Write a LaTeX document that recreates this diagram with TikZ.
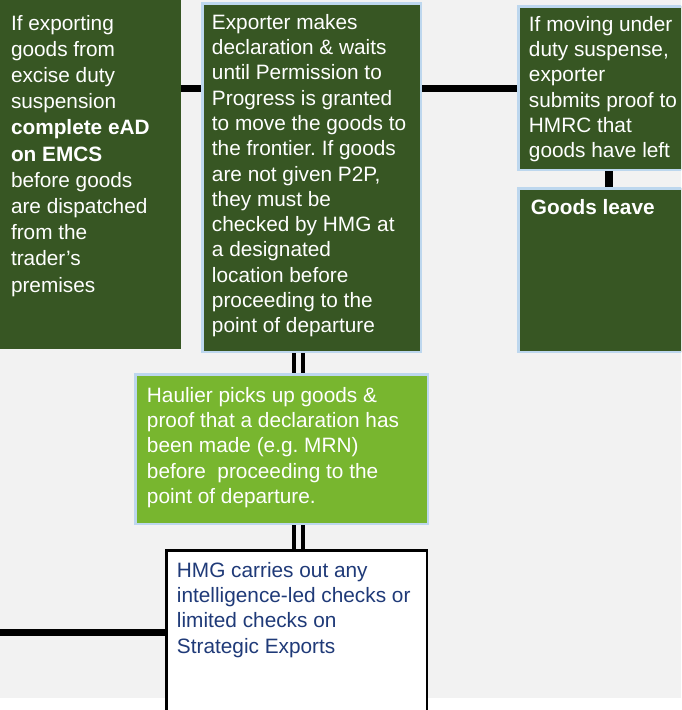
\documentclass[tikz,border=0pt]{standalone}
\usepackage{fontspec}
\setmainfont{Liberation Sans}
\usetikzlibrary{positioning}
\definecolor{bggray}{HTML}{F2F2F2}
\definecolor{darkgreen}{HTML}{375623}
\definecolor{leafgreen}{HTML}{78B62F}
\definecolor{paleblue}{HTML}{BDD7EE}
\definecolor{inknavy}{HTML}{1F3A78}
\frenchspacing
\tikzset{
  stage/.style={inner sep=0pt, fill=darkgreen, draw=paleblue, line width=2.5pt},
  haul/.style={stage, fill=leafgreen},
  check/.style={inner sep=0pt, fill=white, draw=black, line width=2.5pt},
  txt/.style={inner sep=0pt, align=left, text=white, anchor=north west,
    font=\fontsize{20.8pt}{25.3pt}\selectfont},
  link/.style={line width=7pt},
  twin/.style={line width=4pt, double=bggray, double distance=5pt}
}
\begin{document}
\begin{tikzpicture}[x=1pt,y=-1pt]
\useasboundingbox (0,0) rectangle (681,710);
\clip (0,0) rectangle (681,710);
\fill[bggray] (0,0) rectangle (681,698);

\node[inner sep=0pt, fill=darkgreen, minimum width=191pt, minimum height=349pt] (A) at (85.5,174.5) {};
\node[stage, minimum width=218.5pt, minimum height=348.5pt] (B) at (311.5,177.5) {};
\node[stage, minimum width=181.5pt, minimum height=163.5pt] (C) at (609,88) {};
\node[stage, minimum width=181.5pt, minimum height=163.5pt] (D) at (609,270) {};
\node[haul, minimum width=292.5pt, minimum height=149.5pt] (E) at (281.5,449) {};
\node[check, minimum width=260.5pt, minimum height=188.5pt] (F) at (296.5,644.5) {};

\node[txt, font=\fontsize{20.8pt}{26.2pt}\selectfont, below right=15pt and 21pt of A.north west] (tA)
  {If exporting\\goods from\\excise duty\\suspension\\\textbf{complete eAD}\\\textbf{on EMCS}\\before goods\\are dispatched\\from the\\trader’s\\premises};
\node[txt, below right=12pt and 10.75pt of B.north west] (tB)
  {Exporter makes\\declaration \& waits\\until Permission to\\Progress is granted\\to move the goods to\\the frontier. If goods\\are not given P2P,\\they must be\\checked by HMG at\\a designated\\location before\\proceeding to the\\point of departure};
\node[txt, below right=11pt and 11.75pt of C.north west] (tC)
  {If moving under\\duty suspense,\\exporter\\submits proof to\\HMRC that\\goods have left};
\node[txt, below right=12pt and 13.75pt of D.north west] (tD) {\textbf{Goods leave}};
\node[txt, below right=14pt and 12.75pt of E.north west] (tE)
  {Haulier picks up goods \&\\proof that a declaration has\\been made (e.g. MRN)\\before~~proceeding to the\\point of departure.};
\node[txt, text=inknavy, below right=13pt and 11.75pt of F.north west] (tF)
  {HMG carries out any\\intelligence-led checks or\\limited checks on\\Strategic Exports};

\coordinate (spine) at (298.5,0);
\coordinate (feed) at (-5,632);

\draw[link] (A.east |- C.west) -- (B.west |- C.west);
\draw[link] (B.east |- C.west) -- (C.west);
\draw[line width=8pt] (C.south) -- (D.north);
\draw[twin] (B.south -| spine) -- (E.north -| spine);
\draw[twin] (E.south -| spine) -- (F.north -| spine);
\draw[link] (feed) -- (feed -| F.west);
\end{tikzpicture}
\end{document}
